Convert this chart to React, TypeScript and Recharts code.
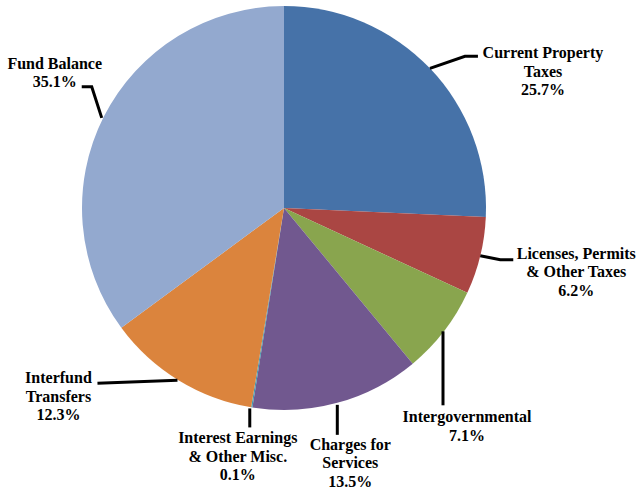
import { PieChart, Pie, Cell } from "recharts"

const categories = [
  "Current Property Taxes",
  "Licenses, Permits & Other Taxes",
  "Intergovernmental",
  "Charges for Services",
  "Interest Earnings & Other Misc.",
  "Interfund Transfers",
  "Fund Balance",
]
const shares = [25.7, 6.2, 7.1, 13.5, 0.1, 12.3, 35.1]
const labelLines = [
  ["Current Property", "Taxes"],
  ["Licenses, Permits", "& Other Taxes"],
  ["Intergovernmental"],
  ["Charges for", "Services"],
  ["Interest Earnings", "& Other Misc."],
  ["Interfund", "Transfers"],
  ["Fund Balance"],
]

const COLORS = ["#4672A8", "#AA4643", "#89A54E", "#71588F", "#4198AF", "#DB843D", "#93A9CF"]

// leader path + text placement, relative to the point on the rim
const LAYOUT = [
  { path: [[0, 0], [35, -12], [48, -12]], tx: 113, ty: -10 },
  { path: [[0, 0], [20, 4], [33, 4]], tx: 96, ty: 3 },
  { path: [[-1, 0], [-1, 74]], tx: 23, ty: 91 },
  { path: [[0, 2], [0, 32]], tx: 13, ty: 47 },
  { path: [[-2, 1], [-2, 20]], tx: -14, ty: 36 },
  { path: [[-1, 0], [-81, 3]], tx: -120, ty: 3 },
  { path: [[-2, 1], [-12, -30], [-22, -30]], tx: -49, ty: -48 },
]

const data = categories.map((name, i) => ({ name, value: shares[i] }))
const RAD = Math.PI / 180
const LINE_H = 18.5
const FONT = "'Liberation Serif', 'Times New Roman', Times, serif"

function renderLabel(props: any) {
  const { cx, cy, midAngle, outerRadius, index } = props
  const ax = cx + outerRadius * Math.cos(-midAngle * RAD)
  const ay = cy + outerRadius * Math.sin(-midAngle * RAD)
  const lay = LAYOUT[index]
  const d = lay.path.map((p, i) => `${i === 0 ? "M" : "L"}${ax + p[0]},${ay + p[1]}`).join(" ")
  const lines = [...labelLines[index], `${shares[index].toFixed(1)}%`]
  return (
    <g key={`lbl-${index}`}>
      <path d={d} stroke="#000" strokeWidth={3} fill="none" />
      <text
        x={ax + lay.tx}
        y={ay + lay.ty}
        textAnchor="middle"
        style={{ fontFamily: FONT, fontWeight: 700, fontSize: 16 }}
        fill="#000"
      >
        {lines.map((l, i) => (
          <tspan key={i} x={ax + lay.tx} y={ay + lay.ty + i * LINE_H}>
            {l}
          </tspan>
        ))}
      </text>
    </g>
  )
}

export default function App() {
  return (
    <div style={{ position: "absolute", left: 0, top: 0, width: 639, height: 493, background: "#fff", fontFamily: FONT }}>
      <PieChart width={639} height={493} margin={{ top: 0, right: 0, bottom: 0, left: 0 }}>
        <Pie
          data={data}
          dataKey="value"
          nameKey="name"
          cx={284}
          cy={208}
          outerRadius={202}
          startAngle={90}
          endAngle={-270}
          stroke="none"
          label={renderLabel}
          labelLine={false}
          isAnimationActive={false}
        >
          {data.map((d, i) => (
            <Cell key={d.name} fill={COLORS[i]} />
          ))}
        </Pie>
      </PieChart>
    </div>
  )
}
